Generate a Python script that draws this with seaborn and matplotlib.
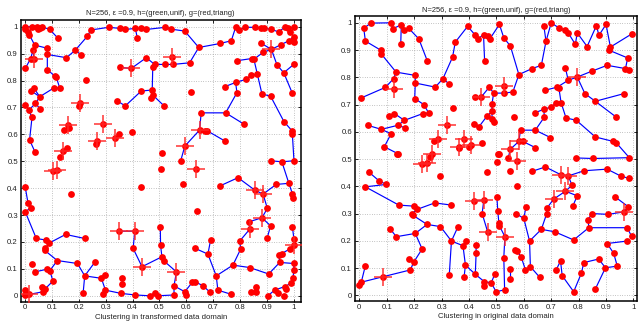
import matplotlib
matplotlib.use("Agg")
import matplotlib.pyplot as plt
import pandas as pd
import seaborn as sns

TITLE = "N=256, \u03b5 =0.9, h=(green,unif), g=(red,triang)"
left_xlabel = "Clustering in transformed data domain"
right_xlabel = "Clustering in original data domain"
tick_values = [0, 0.1, 0.2, 0.3, 0.4, 0.5, 0.6, 0.7, 0.8, 0.9, 1]
tick_labels = ["0", "0.1", "0.2", "0.3", "0.4", "0.5", "0.6", "0.7", "0.8", "0.9", "1"]

# ---------------- left panel (transformed domain) ----------------
left_paths = [
    [(0.0, 1.0), (0.026, 1.0), (0.046, 1.0), (0.055, 0.995), (0.063, 1.0), (0.092, 0.99), (0.123, 0.957)],
    [(0.0, 1.0), (0.0, 0.99), (0.011, 0.98), (0.014, 0.97)],
    [(0.011, 0.98), (0.036, 0.932), (0.083, 0.92), (0.083, 0.897), (0.154, 0.885), (0.187, 0.913), (0.232, 0.965),
     (0.245, 0.988), (0.311, 0.998), (0.352, 0.994), (0.373, 0.99), (0.41, 0.994), (0.43, 0.994), (0.451, 0.99),
     (0.522, 0.998), (0.544, 0.991), (0.594, 0.984), (0.646, 0.923), (0.726, 0.938), (0.767, 0.948), (0.783, 0.998)],
    [(0.41, 0.994), (0.418, 0.957)],
    [(0.036, 0.932), (0.03, 0.913), (0.021, 0.882), (0.001, 0.845)],
    [(0.03, 0.913), (0.033, 0.882)],
    [(0.187, 0.913), (0.209, 0.895)],
    [(0.083, 0.897), (0.083, 0.841), (0.11, 0.817), (0.116, 0.813), (0.129, 0.773), (0.108, 0.773), (0.055, 0.74), (0.032, 0.773)],
    [(0.055, 0.74), (0.024, 0.761)],
    [(0.055, 0.74), (0.039, 0.715), (0.014, 0.69), (0.026, 0.663), (0.017, 0.579), (0.038, 0.533)],
    [(0.039, 0.715), (0.055, 0.696)],
    [(0.001, 0.711), (0.014, 0.69)],
    [(0.352, 0.849), (0.395, 0.845), (0.451, 0.885), (0.482, 0.86), (0.519, 0.86), (0.55, 0.86), (0.612, 0.866), (0.646, 0.923)],
    [(0.482, 0.86), (0.475, 0.85), (0.473, 0.765), (0.475, 0.746), (0.517, 0.706)],
    [(0.473, 0.765), (0.432, 0.761), (0.373, 0.706), (0.343, 0.724)],
    [(0.783, 0.998), (0.796, 0.988), (0.819, 0.998), (0.854, 0.998), (0.879, 0.996), (0.888, 0.994), (0.913, 0.991),
     (0.943, 0.981), (0.965, 0.998), (0.978, 0.994), (1.0, 0.998)],
    [(0.978, 0.994), (0.984, 0.979)],
    [(1.0, 0.942), (1.0, 0.963), (0.981, 0.948), (0.953, 0.934), (0.916, 0.916), (0.876, 0.94)],
    [(0.916, 0.916), (0.885, 0.905), (0.851, 0.879), (0.844, 0.882), (0.789, 0.874)],
    [(0.916, 0.916), (0.937, 0.858), (0.962, 0.829), (0.999, 0.86)],
    [(0.962, 0.829), (0.993, 0.755)],
    [(0.851, 0.879), (0.881, 0.75), (0.913, 0.742), (0.963, 0.647), (0.993, 0.613), (0.994, 0.601), (1.0, 0.502),
     (0.955, 0.498), (0.913, 0.502)],
    [(0.862, 0.823), (0.841, 0.82), (0.82, 0.804), (0.783, 0.793), (0.742, 0.777)],
    [(0.783, 0.793), (0.788, 0.755), (0.746, 0.68), (0.655, 0.68), (0.649, 0.616), (0.594, 0.556), (0.579, 0.502)],
    [(0.746, 0.68), (0.814, 0.638)],
    [(0.649, 0.616), (0.668, 0.613), (0.678, 0.613), (0.742, 0.576)],
    [(0.001, 0.403), (0.011, 0.346), (0.021, 0.327), (0.001, 0.312), (0.042, 0.213), (0.079, 0.207), (0.088, 0.195),
     (0.151, 0.228), (0.222, 0.213)],
    [(0.088, 0.195), (0.076, 0.176), (0.073, 0.169), (0.12, 0.131), (0.195, 0.12), (0.222, 0.074), (0.284, 0.065),
     (0.299, 0.021), (0.356, 0.009), (0.41, 0.003), (0.463, 0.0), (0.482, 0.009), (0.494, 0.0), (0.554, 0.003)],
    [(0.222, 0.074), (0.259, 0.124)],
    [(0.222, 0.074), (0.216, 0.009)],
    [(0.284, 0.065), (0.299, 0.077)],
    [(0.12, 0.131), (0.092, 0.093), (0.083, 0.099), (0.038, 0.089)],
    [(0.092, 0.093), (0.104, 0.055), (0.076, 0.027), (0.067, 0.015), (0.015, 0.005), (0.001, 0.002)],
    [(0.361, 0.065), (0.361, 0.045)],
    [(0.348, 0.24), (0.408, 0.24), (0.402, 0.176), (0.435, 0.108), (0.509, 0.145), (0.517, 0.129), (0.563, 0.089),
     (0.554, 0.037), (0.554, 0.003)],
    [(0.503, 0.257), (0.504, 0.188), (0.509, 0.145)],
    [(0.554, 0.037), (0.594, 0.015), (0.622, 0.05), (0.633, 0.052), (0.662, 0.037), (0.686, 0.015)],
    [(0.633, 0.176), (0.68, 0.155), (0.711, 0.074), (0.717, 0.021), (0.765, 0.006)],
    [(0.69, 0.207), (0.68, 0.155)],
    [(0.711, 0.074), (0.773, 0.114), (0.835, 0.105), (0.906, 0.081), (0.947, 0.124), (0.999, 0.12)],
    [(0.773, 0.114), (0.802, 0.174), (0.798, 0.203), (0.835, 0.247), (0.833, 0.275), (0.881, 0.29), (0.901, 0.325), (0.885, 0.378)],
    [(0.881, 0.29), (0.913, 0.26), (0.9, 0.213)],
    [(0.724, 0.408), (0.792, 0.439), (0.854, 0.393), (0.885, 0.378), (0.934, 0.414), (0.981, 0.418), (0.955, 0.498)],
    [(0.981, 0.418), (0.994, 0.38), (0.996, 0.364)],
    [(0.947, 0.124), (0.944, 0.151), (0.955, 0.157), (0.984, 0.174), (1.0, 0.188), (1.0, 0.21), (0.994, 0.257)],
    [(0.999, 0.12), (1.0, 0.096), (0.996, 0.065), (0.988, 0.046), (0.965, 0.034), (0.928, 0.021), (0.903, 0.0)],
]
left_isolated = [
    (0.048, 0.99), (0.228, 0.802), (0.2, 0.706), (0.144, 0.616), (0.162, 0.622), (0.348, 0.603), (0.264, 0.563),
    (0.398, 0.61), (0.157, 0.548), (0.131, 0.517), (0.47, 0.736), (0.618, 0.758), (0.51, 0.532), (0.504, 0.473),
    (0.432, 0.403), (0.172, 0.379), (0.587, 0.415), (0.641, 0.315), (0.026, 0.119), (0.063, 0.032), (0.001, 0.021),
    (0.29, 0.005), (0.6, 0.002), (0.972, 0.025), (0.94, 0.009), (0.963, 0.0), (0.86, 0.031), (0.841, 0.015),
    (0.86, 0.015),
]
left_crosses = [
    (0.033, 0.882), (0.395, 0.845), (0.546, 0.888), (0.203, 0.715), (0.16, 0.634), (0.29, 0.637), (0.333, 0.585),
    (0.269, 0.575), (0.141, 0.538), (0.104, 0.464), (0.119, 0.467), (0.594, 0.556), (0.637, 0.473), (0.649, 0.616),
    (0.854, 0.393), (0.885, 0.378), (0.881, 0.29), (0.835, 0.247), (0.348, 0.24), (0.408, 0.24), (0.435, 0.108),
    (0.563, 0.089), (0.015, 0.005), (0.916, 0.916), (1.0, 0.188),
]

# ---------------- right panel (original domain) ----------------
right_paths = [
    [(0.006, 0.724), (0.095, 0.763), (0.125, 0.795), (0.134, 0.819), (0.079, 0.887), (0.079, 0.899), (0.022, 0.933),
     (0.016, 0.98), (0.042, 0.999), (0.117, 1.0), (0.122, 0.978), (0.153, 0.993), (0.151, 0.923)],
    [(0.153, 0.993), (0.164, 0.972), (0.18, 0.98), (0.217, 0.941), (0.248, 0.86)],
    [(0.134, 0.819), (0.204, 0.807), (0.204, 0.779), (0.277, 0.764), (0.305, 0.795), (0.34, 0.874), (0.35, 0.929),
     (0.395, 0.987), (0.421, 0.957), (0.433, 0.941), (0.453, 0.957), (0.469, 0.95), (0.476, 0.941), (0.511, 0.994)],
    [(0.305, 0.795), (0.326, 0.777)],
    [(0.453, 0.957), (0.457, 0.86)],
    [(0.204, 0.779), (0.202, 0.722), (0.235, 0.7), (0.253, 0.669), (0.232, 0.667), (0.164, 0.642), (0.141, 0.624),
     (0.08, 0.609), (0.03, 0.624)],
    [(0.164, 0.642), (0.128, 0.667), (0.107, 0.658)],
    [(0.141, 0.624), (0.168, 0.614)],
    [(0.08, 0.609), (0.116, 0.593), (0.091, 0.545), (0.14, 0.52)],
    [(0.445, 0.728), (0.474, 0.764), (0.49, 0.742), (0.484, 0.703), (0.484, 0.675), (0.484, 0.648), (0.49, 0.636)],
    [(0.417, 0.63), (0.436, 0.618), (0.466, 0.658), (0.484, 0.675)],
    [(0.49, 0.742), (0.527, 0.742), (0.56, 0.746), (0.582, 0.81), (0.551, 0.915), (0.527, 0.945), (0.511, 0.994)],
    [(0.582, 0.81), (0.63, 0.832), (0.664, 0.844), (0.681, 0.932), (0.673, 0.99)],
    [(0.681, 0.932), (0.7, 1.0), (0.73, 0.98), (0.75, 0.974), (0.762, 0.963), (0.788, 0.921), (0.795, 0.963),
     (0.831, 0.913), (0.865, 0.99), (0.874, 0.954), (0.9, 0.994), (0.916, 0.911), (0.995, 0.96)],
    [(0.916, 0.911), (0.912, 0.899), (0.979, 0.871), (0.971, 0.832), (0.983, 0.828)],
    [(0.676, 0.752), (0.722, 0.764), (0.762, 0.789), (0.795, 0.801), (0.847, 0.822), (0.904, 0.844), (0.971, 0.832)],
    [(0.762, 0.789), (0.752, 0.834)],
    [(0.795, 0.801), (0.823, 0.74), (0.861, 0.712), (0.965, 0.74)],
    [(0.861, 0.712), (0.937, 0.654)],
    [(0.722, 0.764), (0.728, 0.761), (0.736, 0.707), (0.754, 0.651), (0.792, 0.642), (0.861, 0.581), (0.925, 0.565),
     (0.937, 0.56), (0.985, 0.505), (0.852, 0.502), (0.791, 0.504)],
    [(0.736, 0.707), (0.718, 0.707), (0.701, 0.691), (0.673, 0.683), (0.642, 0.67)],
    [(0.673, 0.683), (0.675, 0.654), (0.642, 0.606), (0.588, 0.606), (0.582, 0.565), (0.551, 0.536), (0.543, 0.504)],
    [(0.642, 0.606), (0.697, 0.579)],
    [(0.582, 0.565), (0.596, 0.565), (0.642, 0.542)],
    [(0.036, 0.451), (0.073, 0.419), (0.099, 0.407), (0.022, 0.398), (0.144, 0.331), (0.201, 0.327), (0.21, 0.315),
     (0.275, 0.339), (0.336, 0.331)],
    [(0.21, 0.315), (0.192, 0.3), (0.195, 0.294), (0.247, 0.26), (0.296, 0.252), (0.336, 0.199), (0.328, 0.074)],
    [(0.247, 0.26), (0.204, 0.227), (0.135, 0.215), (0.111, 0.245)],
    [(0.204, 0.227), (0.229, 0.17), (0.198, 0.121), (0.18, 0.132)],
    [(0.198, 0.121), (0.186, 0.093), (0.086, 0.068), (0.007, 0.048), (0.0, 0.038)],
    [(0.007, 0.048), (0.022, 0.109)],
    [(0.336, 0.199), (0.36, 0.252)],
    [(0.336, 0.199), (0.378, 0.182), (0.389, 0.199)],
    [(0.378, 0.182), (0.387, 0.111), (0.382, 0.066)],
    [(0.387, 0.111), (0.423, 0.077), (0.456, 0.05), (0.454, 0.034)],
    [(0.426, 0.184), (0.426, 0.154), (0.423, 0.077)],
    [(0.456, 0.05), (0.481, 0.046), (0.494, 0.077)],
    [(0.481, 0.046), (0.499, 0.013), (0.53, 0.02)],
    [(0.417, 0.346), (0.454, 0.349), (0.448, 0.3), (0.468, 0.233)],
    [(0.502, 0.359), (0.505, 0.309), (0.509, 0.267), (0.511, 0.255), (0.531, 0.215), (0.527, 0.138), (0.53, 0.02)],
    [(0.63, 0.455), (0.679, 0.471), (0.734, 0.443), (0.762, 0.438), (0.776, 0.404), (0.752, 0.382)],
    [(0.762, 0.438), (0.82, 0.457), (0.904, 0.463), (0.953, 0.438), (0.983, 0.429)],
    [(0.752, 0.382), (0.709, 0.353), (0.685, 0.321), (0.683, 0.298), (0.664, 0.242), (0.621, 0.199)],
    [(0.752, 0.382), (0.795, 0.365), (0.779, 0.328)],
    [(0.664, 0.242), (0.713, 0.233), (0.782, 0.203), (0.837, 0.248), (0.977, 0.248), (0.993, 0.217)],
    [(0.837, 0.248), (0.835, 0.276), (0.847, 0.3), (0.908, 0.297), (0.965, 0.306), (0.981, 0.325), (0.932, 0.362)],
    [(0.904, 0.19), (0.977, 0.199)],
    [(0.904, 0.19), (0.928, 0.154), (0.941, 0.107), (0.898, 0.101), (0.861, 0.023)],
    [(0.621, 0.199), (0.6, 0.282), (0.608, 0.325)],
    [(0.6, 0.282), (0.573, 0.299)],
    [(0.621, 0.199), (0.624, 0.105), (0.658, 0.066)],
    [(0.624, 0.105), (0.606, 0.093), (0.591, 0.139), (0.576, 0.162), (0.567, 0.166)],
    [(0.551, 0.095), (0.551, 0.06)],
    [(0.718, 0.093), (0.734, 0.126), (0.74, 0.072), (0.782, 0.013), (0.81, 0.081), (0.819, 0.12), (0.873, 0.133), (0.898, 0.101)],
]
right_isolated = [
    (0.34, 0.689), (0.421, 0.728), (0.365, 0.541), (0.448, 0.559), (0.271, 0.565), (0.257, 0.508), (0.137, 0.52),
    (0.296, 0.437), (0.466, 0.451), (0.509, 0.518), (0.563, 0.654), (0.506, 0.517), (0.503, 0.49), (0.548, 0.457),
    (0.576, 0.4), (0.4, 0.545),
]
right_crosses = [
    (0.128, 0.758), (0.32, 0.624), (0.287, 0.575), (0.265, 0.52), (0.229, 0.481), (0.247, 0.484), (0.381, 0.575),
    (0.365, 0.545), (0.409, 0.551), (0.445, 0.728), (0.527, 0.768), (0.551, 0.536), (0.575, 0.493), (0.582, 0.565),
    (0.795, 0.801), (0.417, 0.346), (0.454, 0.349), (0.468, 0.233), (0.086, 0.068), (0.531, 0.215), (0.734, 0.443),
    (0.762, 0.438), (0.752, 0.382), (0.709, 0.353), (0.965, 0.306),
]

plt.rcParams["font.family"] = ["Liberation Sans", "DejaVu Sans"]


def draw_panel(ax, paths, isolated, crosses, xlim, ylim, xlabel):
    rows = [(i, k, x, y) for i, p in enumerate(paths) for k, (x, y) in enumerate(p)]
    lines = pd.DataFrame(rows, columns=["path", "order", "x", "y"])
    sns.lineplot(data=lines, x="x", y="y", units="path", estimator=None, sort=False,
                 color=(0, 0, 1), linewidth=0.85, ax=ax, legend=False, zorder=2)
    pts = {(x, y) for p in paths for (x, y) in p} | set(isolated) | set(crosses)
    dots = pd.DataFrame(sorted(pts), columns=["x", "y"])
    sns.scatterplot(data=dots, x="x", y="y", color=(1, 0, 0), s=24, linewidth=0,
                    ax=ax, legend=False, zorder=3)
    cr = pd.DataFrame(crosses, columns=["x", "y"])
    sns.scatterplot(data=cr, x="x", y="y", color=(1, 0.15, 0.15), marker="+", s=160,
                    linewidth=1.3, alpha=0.8, ax=ax, legend=False, zorder=4)
    ax.set_xlim(*xlim)
    ax.set_ylim(*ylim)
    ax.set_xticks(tick_values)
    ax.set_xticklabels(tick_labels)
    ax.set_yticks(tick_values)
    ax.set_yticklabels(tick_labels)
    ax.grid(True, linestyle=(0, (1, 2.4)), color="0.55", linewidth=0.5)
    ax.set_axisbelow(True)
    ax.tick_params(direction="in", length=2.5, width=0.6, pad=2, labelsize=5.6,
                   top=True, right=True, colors="black", labelcolor="#222222")
    for s in ax.spines.values():
        s.set_linewidth(1.1)
        s.set_color("black")
    ax.set_xlabel(xlabel, fontsize=5.6, labelpad=1.5, color="#222222")
    ax.set_ylabel("")
    ax.set_title(TITLE, fontsize=5.4, pad=3, color="#222222")


fig = plt.figure(figsize=(6.38, 3.26), dpi=100)
W, H = 638.0, 326.0
axL = fig.add_axes([20.7 / W, 1 - 301.7 / H, (300.7 - 20.7) / W, (301.7 - 19.5) / H])
axR = fig.add_axes([354.7 / W, 1 - 301.0 / H, (637.0 - 354.7) / W, (301.0 - 16.0) / H])

draw_panel(axL, left_paths, left_isolated, left_crosses, (-0.016, 1.025), (-0.022, 1.027), left_xlabel)
draw_panel(axR, right_paths, right_isolated, right_crosses, (-0.017, 1.013), (-0.021, 1.025), right_xlabel)

fig.savefig("out.png", dpi=100)
